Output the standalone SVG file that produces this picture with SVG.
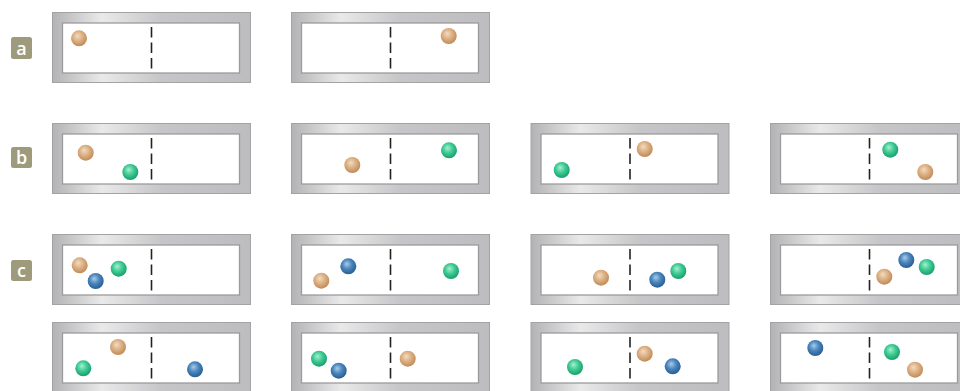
<svg xmlns="http://www.w3.org/2000/svg" xmlns:xlink="http://www.w3.org/1999/xlink" width="960" height="391" viewBox="0 0 960 391">
<defs>
<linearGradient id="fg" x1="0" y1="0" x2="1" y2="0">
<stop offset="0" stop-color="#b3b3b5"/>
<stop offset="0.25" stop-color="#e9e9ea"/>
<stop offset="0.55" stop-color="#c6c6c8"/>
<stop offset="1" stop-color="#bdbdbf"/>
</linearGradient>
<radialGradient id="gt" cx="0.45" cy="0.4" r="0.6" fx="0.4" fy="0.35">
<stop offset="0" stop-color="#f3dcc0"/>
<stop offset="0.5" stop-color="#dcb185"/>
<stop offset="1" stop-color="#c08a58"/>
</radialGradient>
<radialGradient id="gg" cx="0.45" cy="0.4" r="0.6" fx="0.4" fy="0.35">
<stop offset="0" stop-color="#a6f0d0"/>
<stop offset="0.5" stop-color="#3fcb94"/>
<stop offset="1" stop-color="#189e6c"/>
</radialGradient>
<radialGradient id="gb" cx="0.45" cy="0.4" r="0.6" fx="0.4" fy="0.35">
<stop offset="0" stop-color="#a9cbea"/>
<stop offset="0.5" stop-color="#4a86bd"/>
<stop offset="1" stop-color="#285d91"/>
</radialGradient>
<g id="frame">
<rect x="0.5" y="0.5" width="198" height="70" fill="url(#fg)" stroke="#a3a3a5" stroke-width="1"/>
<rect x="10.5" y="11" width="177" height="50" fill="#ffffff" stroke="#9b9b9d" stroke-width="1.3"/>
<line x1="99.5" y1="15" x2="99.5" y2="58" stroke="#222" stroke-width="1.6" stroke-dasharray="10.5 5"/>
</g>
</defs>
<style>
.lbl{fill:#9d9b7c}
.lt{fill:#fff;font-family:"Open Sans","Liberation Sans",sans-serif;font-weight:600;font-size:18px;text-anchor:middle}
.t{fill:url(#gt)}
.g{fill:url(#gg)}
.b{fill:url(#gb)}
</style>

<g id="label-a"><rect class="lbl" x="11" y="37" width="21" height="22" rx="2.5"/><text class="lt" x="21.5" y="54.5">a</text></g>
<g id="label-b"><rect class="lbl" x="11" y="147" width="21" height="21" rx="2.5"/><text class="lt" x="21.5" y="164">b</text></g>
<g id="label-c"><rect class="lbl" x="11" y="260" width="21" height="21" rx="2.5"/><text class="lt" x="21.5" y="277">c</text></g>

<g id="a1"><use xlink:href="#frame" x="52" y="12"/><circle class="t" cx="79" cy="38.3" r="8"/></g>
<g id="a2"><use xlink:href="#frame" x="291" y="12"/><circle class="t" cx="448.7" cy="36" r="8"/></g>

<g id="b1"><use xlink:href="#frame" x="52" y="123"/><circle class="t" cx="85.7" cy="152.7" r="8"/><circle class="g" cx="130.3" cy="172" r="8"/></g>
<g id="b2"><use xlink:href="#frame" x="291" y="123"/><circle class="t" cx="352.3" cy="165" r="8"/><circle class="g" cx="449" cy="150.3" r="8"/></g>
<g id="b3"><use xlink:href="#frame" x="530.5" y="123"/><circle class="t" cx="644.7" cy="149" r="8"/><circle class="g" cx="561.7" cy="170" r="8"/></g>
<g id="b4"><use xlink:href="#frame" x="770" y="123"/><circle class="g" cx="890.3" cy="149.7" r="8"/><circle class="t" cx="925.3" cy="172" r="8"/></g>

<g id="c1"><use xlink:href="#frame" x="52" y="234"/><circle class="t" cx="79.7" cy="265.3" r="8"/><circle class="b" cx="95.7" cy="281" r="8"/><circle class="g" cx="118.7" cy="268.7" r="8"/></g>
<g id="c2"><use xlink:href="#frame" x="291" y="234"/><circle class="b" cx="348.3" cy="266.3" r="8"/><circle class="t" cx="321.3" cy="280.7" r="8"/><circle class="g" cx="451" cy="271" r="8"/></g>
<g id="c3"><use xlink:href="#frame" x="530.5" y="234"/><circle class="t" cx="601" cy="277.7" r="8"/><circle class="b" cx="657.3" cy="279.7" r="8"/><circle class="g" cx="678.3" cy="271" r="8"/></g>
<g id="c4"><use xlink:href="#frame" x="770" y="234"/><circle class="b" cx="906.3" cy="260" r="8"/><circle class="g" cx="926.7" cy="267" r="8"/><circle class="t" cx="884.3" cy="276.7" r="8"/></g>

<g id="c5"><use xlink:href="#frame" x="52" y="322"/><circle class="t" cx="118" cy="347" r="8"/><circle class="g" cx="83.3" cy="368.3" r="8"/><circle class="b" cx="195" cy="369.3" r="8"/></g>
<g id="c6"><use xlink:href="#frame" x="291" y="322"/><circle class="g" cx="319" cy="358.7" r="8"/><circle class="b" cx="338.7" cy="370.7" r="8"/><circle class="t" cx="407.7" cy="358.7" r="8"/></g>
<g id="c7"><use xlink:href="#frame" x="530.5" y="322"/><circle class="t" cx="644.7" cy="353.7" r="8"/><circle class="g" cx="575" cy="367" r="8"/><circle class="b" cx="672.7" cy="366.3" r="8"/></g>
<g id="c8"><use xlink:href="#frame" x="770" y="322"/><circle class="b" cx="815.3" cy="348" r="8"/><circle class="g" cx="892" cy="352" r="8"/><circle class="t" cx="915" cy="369.7" r="8"/></g>
</svg>
